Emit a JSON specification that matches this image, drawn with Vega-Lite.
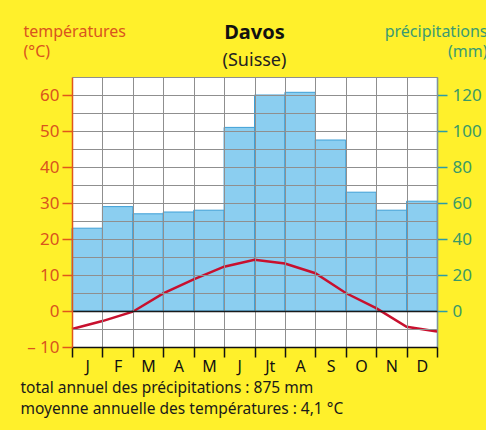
{
  "$schema": "https://vega.github.io/schema/vega-lite/v6.json",
  "width": 365,
  "height": 270,
  "autosize": {"type": "none"},
  "padding": {"left": 72, "top": 77, "right": 49, "bottom": 83},
  "background": "#FFF02B",
  "config": {
    "font": "Noto Sans",
    "view": {"fill": "white", "stroke": null},
    "title": {"font": "Noto Sans"}
  },
  "title": {
    "text": "Davos",
    "subtitle": "(Suisse)",
    "anchor": "middle",
    "fontSize": 20,
    "fontWeight": "bold",
    "color": "#111111",
    "subtitleFontSize": 18,
    "subtitleColor": "#222222",
    "subtitlePadding": 9,
    "offset": -47
  },
  "datasets": {
    "precip": [
      {"mois": "J", "precip": 46},
      {"mois": "F", "precip": 58},
      {"mois": "M", "precip": 54},
      {"mois": "A", "precip": 55},
      {"mois": "M ", "precip": 56},
      {"mois": "J ", "precip": 102},
      {"mois": "Jt", "precip": 120},
      {"mois": "A ", "precip": 121.5},
      {"mois": "S", "precip": 95},
      {"mois": "O", "precip": 66},
      {"mois": "N", "precip": 56},
      {"mois": "D", "precip": 61}
    ],
    "temp": [
      {"borne": 0, "temp": -5.0},
      {"borne": 1, "temp": -2.8},
      {"borne": 2, "temp": -0.2},
      {"borne": 3, "temp": 4.9},
      {"borne": 4, "temp": 8.8},
      {"borne": 5, "temp": 12.3},
      {"borne": 6, "temp": 14.2},
      {"borne": 7, "temp": 13.2},
      {"borne": 8, "temp": 10.5},
      {"borne": 9, "temp": 5.0},
      {"borne": 10, "temp": 0.8},
      {"borne": 11, "temp": -4.4},
      {"borne": 12, "temp": -5.7}
    ]
  },
  "layer": [
    {
      "data": {"name": "precip"},
      "mark": {"type": "bar", "color": "#8BCEF0", "stroke": "#3E9FD6", "strokeWidth": 1},
      "encoding": {
        "x": {
          "field": "mois",
          "type": "ordinal",
          "sort": null,
          "scale": {"paddingInner": 0, "paddingOuter": 0},
          "axis": {
            "orient": "bottom",
            "tickBand": "extent",
            "grid": true,
            "gridColor": "#8f8f8f",
            "gridWidth": 1,
            "domainColor": "#111111",
            "domainWidth": 1.5,
            "tickColor": "#111111",
            "tickWidth": 1.5,
            "tickSize": 10,
            "labelAngle": 0,
            "labelFontSize": 16,
            "labelColor": "#111111",
            "labelPadding": 1,
            "labelExpr": "trim(datum.label)",
            "zindex": 1,
            "title": ["total annuel des précipitations : 875 mm", "moyenne annuelle des températures : 4,1 °C"],
            "titleFontSize": 15.5,
            "titleFontWeight": "normal",
            "titleColor": "#1a1a1a",
            "titleAlign": "left",
            "titleAnchor": "start",
            "titleBaseline": "top",
            "titleX": -52,
            "titleY": 33,
            "titleLineHeight": 21
          }
        },
        "y": {
          "field": "precip",
          "type": "quantitative",
          "scale": {"domain": [-20, 130], "nice": false, "zero": false},
          "axis": {
            "orient": "right",
            "values": [0, 20, 40, 60, 80, 100, 120],
            "grid": false,
            "domainColor": "#2A9BC9",
            "domainWidth": 1.5,
            "tickColor": "#2A9BA8",
            "tickWidth": 1.5,
            "tickSize": 10,
            "labelFontSize": 17,
            "labelColor": "#3A9A66",
            "labelPadding": 5,
            "title": ["précipitations", "(mm)"],
            "titleAngle": 0,
            "titleAlign": "right",
            "titleBaseline": "top",
            "titleX": 50,
            "titleY": -54,
            "titleFontSize": 16,
            "titleFontWeight": "normal",
            "titleColor": "#3A9A72",
            "titleLineHeight": 20
          }
        }
      }
    },
    {
      "data": {"name": "temp"},
      "mark": {"type": "line", "color": "#C8102E", "strokeWidth": 2.5, "zindex": 2},
      "encoding": {
        "x": {
          "field": "borne",
          "type": "quantitative",
          "scale": {"domain": [0, 12], "nice": false, "zero": false},
          "axis": null
        },
        "y": {
          "field": "temp",
          "type": "quantitative",
          "scale": {"domain": [-10, 65], "nice": false, "zero": false},
          "axis": {
            "orient": "left",
            "values": [-10, -5, 0, 5, 10, 15, 20, 25, 30, 35, 40, 45, 50, 55, 60, 65],
            "grid": true,
            "gridColor": {"condition": {"test": "datum.value === 0", "value": "#1a1a1a"}, "value": "#8f8f8f"},
            "gridWidth": {"condition": {"test": "datum.value === 0", "value": 1.5}, "value": 1},
            "domainColor": "#E0561B",
            "domainWidth": 1.5,
            "tickColor": "#E0561B",
            "tickWidth": 1.5,
            "tickSize": 10,
            "tickOpacity": {"condition": {"test": "datum.value % 10 !== 0 || datum.value > 60", "value": 0}, "value": 1},
            "labelExpr": "(datum.value % 10 !== 0 || datum.value > 60) ? '' : (datum.value < 0 ? '– ' + abs(datum.value) : datum.label)",
            "labelFontSize": 17,
            "labelColor": "#D9541E",
            "labelPadding": 3,
            "zindex": 1,
            "title": ["températures", "(°C)"],
            "titleAngle": 0,
            "titleAlign": "left",
            "titleBaseline": "top",
            "titleX": -49,
            "titleY": -54,
            "titleFontSize": 16,
            "titleFontWeight": "normal",
            "titleColor": "#D9541E",
            "titleLineHeight": 20
          }
        }
      }
    }
  ],
  "resolve": {"scale": {"x": "independent", "y": "independent"}}
}
